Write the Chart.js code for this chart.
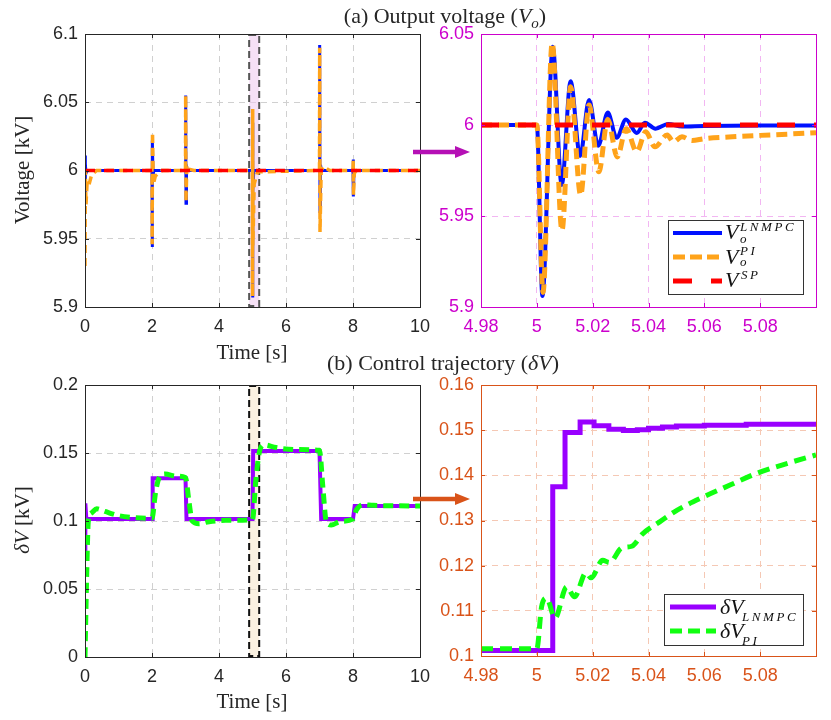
<!DOCTYPE html>
<html>
<head>
<meta charset="utf-8">
<script src="https://cdn.jsdelivr.net/npm/chart.js@4.4.1/dist/chart.umd.min.js"></script>
<style>
body{margin:0;background:#fff;width:831px;height:720px;position:relative;overflow:hidden}
.pane{position:absolute}
.txt{position:absolute;white-space:nowrap;color:#262626;font-family:"Liberation Serif",serif;font-size:21px;line-height:1}
.c{transform:translate(-50%,-50%)}
.rot{transform:translate(-50%,-50%) rotate(-90deg)}
.mi{font-style:italic}
.sm{font-size:14px;font-style:italic}
.leg{position:absolute;background:#fff;border:1px solid #333}
.lt{position:absolute;white-space:nowrap;color:#111;font-family:"Liberation Serif",serif;line-height:1;font-style:italic}
svg.ov{position:absolute;left:0;top:0;pointer-events:none}
</style>
</head>
<body>
<div class="pane" id="pTL"><canvas id="cTL"></canvas></div>
<div class="pane" id="pTR"><canvas id="cTR"></canvas></div>
<div class="pane" id="pBL"><canvas id="cBL"></canvas></div>
<div class="pane" id="pBR"><canvas id="cBR"></canvas></div>

<div class="txt c" style="left:445px;top:18px;font-size:22px">(a) Output voltage (<span class="mi">V</span><sub class="sm" style="font-size:15px">o</sub>)</div>
<div class="txt c" style="left:443px;top:363px;font-size:22px">(b) Control trajectory (<span class="mi">δV</span>)</div>
<div class="txt c" style="left:252px;top:352px">Time [s]</div>
<div class="txt c" style="left:252px;top:701px">Time [s]</div>
<div class="txt rot" style="left:22px;top:170px">Voltage [kV]</div>
<div class="txt rot" style="left:22px;top:520px"><span class="mi">δV</span> [kV]</div>

<!-- legend (a) -->
<div class="leg" style="left:668px;top:220px;width:134px;height:73px"></div>
<div class="lt" style="left:725px;top:221px;font-size:22px">V</div>
<div class="lt" style="left:740px;top:219.7px;font-size:13px;letter-spacing:2.6px">LNMPC</div>
<div class="lt" style="left:740px;top:232px;font-size:13px">o</div>
<div class="lt" style="left:725px;top:246px;font-size:22px">V</div>
<div class="lt" style="left:740px;top:243.7px;font-size:13px;letter-spacing:2.6px">PI</div>
<div class="lt" style="left:740px;top:255px;font-size:13px">o</div>
<div class="lt" style="left:725px;top:269px;font-size:22px">V</div>
<div class="lt" style="left:741px;top:267.7px;font-size:13px;letter-spacing:2.6px">SP</div>
<!-- legend (b) -->
<div class="leg" style="left:664px;top:594px;width:138px;height:50px"></div>
<div class="lt" style="left:720px;top:596px;font-size:22px">δV</div>
<div class="lt" style="left:742px;top:609.7px;font-size:13px;letter-spacing:2.6px">LNMPC</div>
<div class="lt" style="left:720px;top:620px;font-size:22px">δV</div>
<div class="lt" style="left:742px;top:633.7px;font-size:13px;letter-spacing:2.6px">PI</div>

<svg class="ov" width="831" height="720">
  <line x1="673" y1="233" x2="722" y2="233" stroke="#0011ff" stroke-width="4"/>
  <line x1="673" y1="257" x2="722" y2="257" stroke="#ffa31a" stroke-width="5" stroke-dasharray="12 5"/>
  <line x1="673" y1="281" x2="722" y2="281" stroke="#ff0000" stroke-width="5" stroke-dasharray="19 19"/>
  <line x1="670" y1="607" x2="716" y2="607" stroke="#9900ff" stroke-width="5"/>
  <line x1="670" y1="631" x2="716" y2="631" stroke="#11ff11" stroke-width="5" stroke-dasharray="12 6"/>
  <line x1="413" y1="152" x2="458" y2="152" stroke="#b510b5" stroke-width="4.5"/>
  <polygon points="455,146 470,152 455,158" fill="#b510b5"/>
  <line x1="413" y1="499" x2="458" y2="499" stroke="#d95319" stroke-width="4.5"/>
  <polygon points="455,493 470,499 455,505" fill="#d95319"/>
</svg>

<script>
// (a) output voltage over the whole run, 0-10 s
const tFullMpc = [0, 0.005, 0.015, 0.03, 0.06, 2, 2.005, 2.015, 2.03, 2.06, 3, 3.005, 3.015, 3.03, 3.06,
                  5, 5.002, 5.006, 5.012, 5.04, 7, 7.005, 7.015, 7.03, 7.06, 8, 8.005, 8.015, 8.03, 10];
const vFullMpc = [6.011, 5.977, 6.005, 5.998, 6.0, 6.0, 5.944, 6.022, 5.997, 6.0, 6.0, 6.055, 5.976, 6.003, 6.0,
                  6.0, 5.907, 6.035, 5.985, 6.0, 6.0, 6.092, 5.97, 6.004, 6.0, 6.0, 6.008, 5.981, 6.0, 6.0];
const tFullPi = [0, 0.01, 0.03, 0.06, 0.1, 0.2, 0.35, 2, 2.005, 2.015, 2.04, 2.1, 2.3, 3, 3.005, 3.015, 3.04, 3.1, 3.25,
                 5, 5.002, 5.006, 5.012, 5.05, 5.15, 7, 7.005, 7.015, 7.05, 7.12, 7.3, 8, 8.005, 8.015, 8.04, 8.1, 10];
const vFullPi = [5.93, 6.0, 5.975, 5.99, 5.988, 5.997, 6.0, 6.0, 5.946, 6.028, 5.99, 5.996, 6.0, 6.0, 6.055, 5.977, 6.004, 6.001, 6.0,
                 6.0, 5.908, 6.045, 5.945, 5.99, 5.999, 6.0, 6.09, 5.955, 6.0, 6.003, 6.0, 6.0, 6.008, 5.982, 5.998, 6.0, 6.0];
const tFullSp = [0, 10];
const vFullSp = [6, 6];

// (a) zoom on the step at 5 s
const tZoomMpc = [4.98, 5.0, 5.002, 5.0057, 5.0089, 5.0121, 5.0155, 5.0187, 5.022, 5.0254, 5.0286, 5.0319,
                  5.0358, 5.0387, 5.0425, 5.047, 5.052, 5.06, 5.08, 5.1];
const vZoomMpc = [6.0, 6.0, 5.906, 6.043, 5.967, 6.024, 5.983, 6.0137, 5.9886, 6.0068, 5.993, 6.003,
                  5.9956, 6.0013, 5.998, 6.0005, 5.9992, 5.9995, 5.9997, 5.9997];
const tZoomPi = [4.98, 5.0, 5.0022, 5.0055, 5.009, 5.0121, 5.0157, 5.0187, 5.0222, 5.0254, 5.0288, 5.032,
                 5.0358, 5.039, 5.0423, 5.0467, 5.0489, 5.052, 5.0556, 5.06, 5.07, 5.08, 5.09, 5.1];
const vZoomPi = [6.0, 6.0, 5.908, 6.045, 5.942, 6.021, 5.9615, 6.011, 5.9743, 6.003, 5.9824, 5.998,
                 5.9853, 5.9963, 5.988, 5.9945, 5.9908, 5.9935, 5.9915, 5.9925, 5.9935, 5.9943, 5.995, 5.9958];
const tZoomSp = [4.98, 5.1];
const vZoomSp = [6, 6];

// (b) control trajectory, 0-10 s
const tCtrlMpc = [0, 0.01, 0.04, 2, 2.02, 3, 3.03, 5, 5.02, 7, 7.05, 8, 8.05, 10];
const uCtrlMpc = [0.075, 0.113, 0.1015, 0.1015, 0.1315, 0.1315, 0.1015, 0.1015, 0.1515, 0.1515, 0.1015, 0.1015, 0.111, 0.111];
const tCtrlPi = [0, 0.05, 0.1, 0.2, 0.35, 0.6, 1.0, 1.5, 2.0, 2.1, 2.2, 2.4, 2.7, 3.0, 3.1, 3.2, 3.4, 3.7, 4.2,
                 5.0, 5.1, 5.2, 5.35, 5.7, 6.3, 7.0, 7.1, 7.2, 7.35, 7.6, 8.0, 8.1, 8.3, 8.6, 10];
const uCtrlPi = [0.0, 0.06, 0.1, 0.106, 0.109, 0.107, 0.104, 0.1025, 0.102, 0.12, 0.131, 0.1345, 0.133, 0.132, 0.115, 0.1, 0.098, 0.0995, 0.1005,
                 0.101, 0.13, 0.15, 0.156, 0.154, 0.1525, 0.152, 0.125, 0.1, 0.097, 0.0995, 0.1015, 0.108, 0.112, 0.1115, 0.111];

// (b) zoom on the step at 5 s
const tCtrlZoomMpc = [4.98, 5.0057, 5.0101, 5.0155, 5.0205, 5.0258, 5.031, 5.036, 5.04, 5.045, 5.05, 5.06, 5.075, 5.1];
const uCtrlZoomMpc = [0.1012, 0.1375, 0.1495, 0.1518, 0.151, 0.1502, 0.1499, 0.1501, 0.1504, 0.1507, 0.1509, 0.1511, 0.1513, 0.1514];
const tCtrlZoomPi = [4.98, 5.0, 5.0017, 5.0035, 5.0065, 5.0107, 5.0135, 5.0176, 5.0194, 5.0236, 5.026, 5.0304,
                     5.034, 5.038, 5.044, 5.0503, 5.06, 5.0694, 5.079, 5.09, 5.1];
const uCtrlZoomPi = [0.1016, 0.1016, 0.1109, 0.1128, 0.1084, 0.1153, 0.1131, 0.1184, 0.1173, 0.1212, 0.1207, 0.1239,
                     0.1243, 0.1271, 0.1297, 0.1323, 0.1353, 0.1379, 0.1405, 0.1427, 0.1445];

// tick labels
const timeTicks = [0, 2, 4, 6, 8, 10];
const zoomTimeTicks = [4.98, 5, 5.02, 5.04, 5.06, 5.08];
const voltTicks = [5.9, 5.95, 6, 6.05, 6.1];
const voltZoomTicks = [5.9, 5.95, 6, 6.05];
const ctrlTicks = [0, 0.05, 0.1, 0.15, 0.2];
const ctrlZoomTicks = [0.1, 0.11, 0.12, 0.13, 0.14, 0.15, 0.16];
const zoomWindow = [4.9, 5.2];

const SANS = '"Liberation Sans", Arial, sans-serif';
const DARK = '#262626';
// room round the plot area: y labels, top, right, x labels
const YW = 75, PT = 22, PR = 24, XH = 34;

// box round the axes with small inward ticks, like matlab
const framePlugin = {
  id: 'frame',
  afterDatasetsDraw(chart, args, o) {
    const { ctx, chartArea: a, scales } = chart;
    ctx.save();
    ctx.strokeStyle = o.color;
    ctx.lineWidth = 1;
    ctx.setLineDash([]);
    ctx.beginPath();
    scales.x.ticks.forEach(t => {
      const px = Math.round(scales.x.getPixelForValue(t.value)) + 0.5;
      ctx.moveTo(px, a.bottom); ctx.lineTo(px, a.bottom - 4);
      ctx.moveTo(px, a.top); ctx.lineTo(px, a.top + 4);
    });
    scales.y.ticks.forEach(t => {
      const py = Math.round(scales.y.getPixelForValue(t.value)) + 0.5;
      ctx.moveTo(a.left, py); ctx.lineTo(a.left + 4, py);
      ctx.moveTo(a.right, py); ctx.lineTo(a.right - 4, py);
    });
    ctx.stroke();
    ctx.strokeRect(Math.round(a.left) + 0.5, Math.round(a.top) + 0.5, Math.round(a.width), Math.round(a.height));
    ctx.restore();
  }
};

// shaded zoom window on the overview plots
const windowPlugin = {
  id: 'window',
  beforeDatasetsDraw(chart, args, o) {
    if (!o.range) return;
    const { ctx, chartArea: a, scales: { x } } = chart;
    const x0 = x.getPixelForValue(o.range[0]), x1 = x.getPixelForValue(o.range[1]);
    ctx.save();
    ctx.fillStyle = o.fill;
    ctx.fillRect(x0, a.top, x1 - x0, a.height);
    ctx.strokeStyle = o.stroke;
    ctx.lineWidth = 2;
    ctx.setLineDash([7, 4]);
    ctx.strokeRect(x0, a.top + 1, x1 - x0, a.height - 2);
    ctx.restore();
  }
};

function pts(ts, vs) { return ts.map((t, i) => ({ x: t, y: vs[i] })); }

function series(ts, vs, color, width, dash, order, extra) {
  return Object.assign({
    data: pts(ts, vs), borderColor: color, borderWidth: width, borderDash: dash,
    pointRadius: 0, fill: false, order: order, tension: 0
  }, extra || {});
}

function axis(min, max, ticks, color, grid, horizontal) {
  return {
    type: 'linear', min: min, max: max,
    afterBuildTicks: s => { s.ticks = ticks.map(v => ({ value: v })); },
    afterFit: s => { if (horizontal) s.height = XH; else s.width = YW; },
    ticks: {
      color: color, font: { family: SANS, size: 18 }, padding: horizontal ? 9 : 7,
      maxRotation: 0, autoSkip: false, callback: v => String(v)
    },
    grid: { color: grid, lineWidth: 1, drawTicks: false },
    border: { display: false, dash: [6, 5] }
  };
}

function makePlot(id, area, datasets, xAx, yAx, frameColor, win) {
  const pane = document.getElementById('p' + id);
  const cv = document.getElementById('c' + id);
  const w = YW + area[2] + PR, h = PT + area[3] + XH;
  pane.style.left = (area[0] - YW) + 'px';
  pane.style.top = (area[1] - PT) + 'px';
  cv.width = w; cv.height = h;
  cv.style.width = w + 'px'; cv.style.height = h + 'px';
  new Chart(cv, {
    type: 'line',
    data: { datasets: datasets },
    options: {
      responsive: false, animation: false, devicePixelRatio: 1,
      layout: { padding: { top: PT, right: PR, left: 0, bottom: 0 } },
      scales: { x: xAx, y: yAx },
      plugins: {
        legend: { display: false }, tooltip: { enabled: false },
        frame: { color: frameColor },
        window: win || {}
      }
    },
    plugins: [framePlugin, windowPlugin]
  });
}

const MAG = '#cc00cc', ORG = '#d95319';

makePlot('TL', [85, 34, 335, 273], [
  series(tFullSp, vFullSp, '#ff0000', 3.5, [10, 9], 0),
  series(tFullPi, vFullPi, '#ffa31a', 3.5, [8, 5], 1),
  series(tFullMpc, vFullMpc, '#0011ff', 3, [], 2)
], axis(0, 10, timeTicks, DARK, '#d0d0d0', true), axis(5.9, 6.1, voltTicks, DARK, '#d0d0d0', false), DARK,
  { range: zoomWindow, fill: 'rgba(238,200,238,0.55)', stroke: '#555555' });

makePlot('TR', [481, 34, 335, 273], [
  series(tZoomSp, vZoomSp, '#ff0000', 5, [18, 19], 0),
  series(tZoomPi, vZoomPi, '#ffa31a', 5, [11, 6], 1, { cubicInterpolationMode: 'monotone' }),
  series(tZoomMpc, vZoomMpc, '#0011ff', 4, [], 2, { cubicInterpolationMode: 'monotone' })
], axis(4.98, 5.1, zoomTimeTicks, MAG, '#f2b6f2', true), axis(5.9, 6.05, voltZoomTicks, MAG, '#f2b6f2', false), MAG);

makePlot('BL', [85, 385, 335, 272], [
  series(tCtrlPi, uCtrlPi, '#11ff11', 5, [10, 6], 0, { cubicInterpolationMode: 'monotone' }),
  series(tCtrlMpc, uCtrlMpc, '#9900ff', 4, [], 1)
], axis(0, 10, timeTicks, DARK, '#d0d0d0', true), axis(0, 0.2, ctrlTicks, DARK, '#d0d0d0', false), DARK,
  { range: zoomWindow, fill: 'rgba(246,232,205,0.6)', stroke: '#111111' });

makePlot('BR', [481, 385, 335, 271], [
  series(tCtrlZoomPi, uCtrlZoomPi, '#11ff11', 5, [12, 7], 0, { cubicInterpolationMode: 'monotone' }),
  series(tCtrlZoomMpc, uCtrlZoomMpc, '#9900ff', 5, [], 1, { stepped: true })
], axis(4.98, 5.1, zoomTimeTicks, ORG, '#f5c8b4', true), axis(0.1, 0.16, ctrlZoomTicks, ORG, '#f5c8b4', false), ORG);
</script>
</body>
</html>
